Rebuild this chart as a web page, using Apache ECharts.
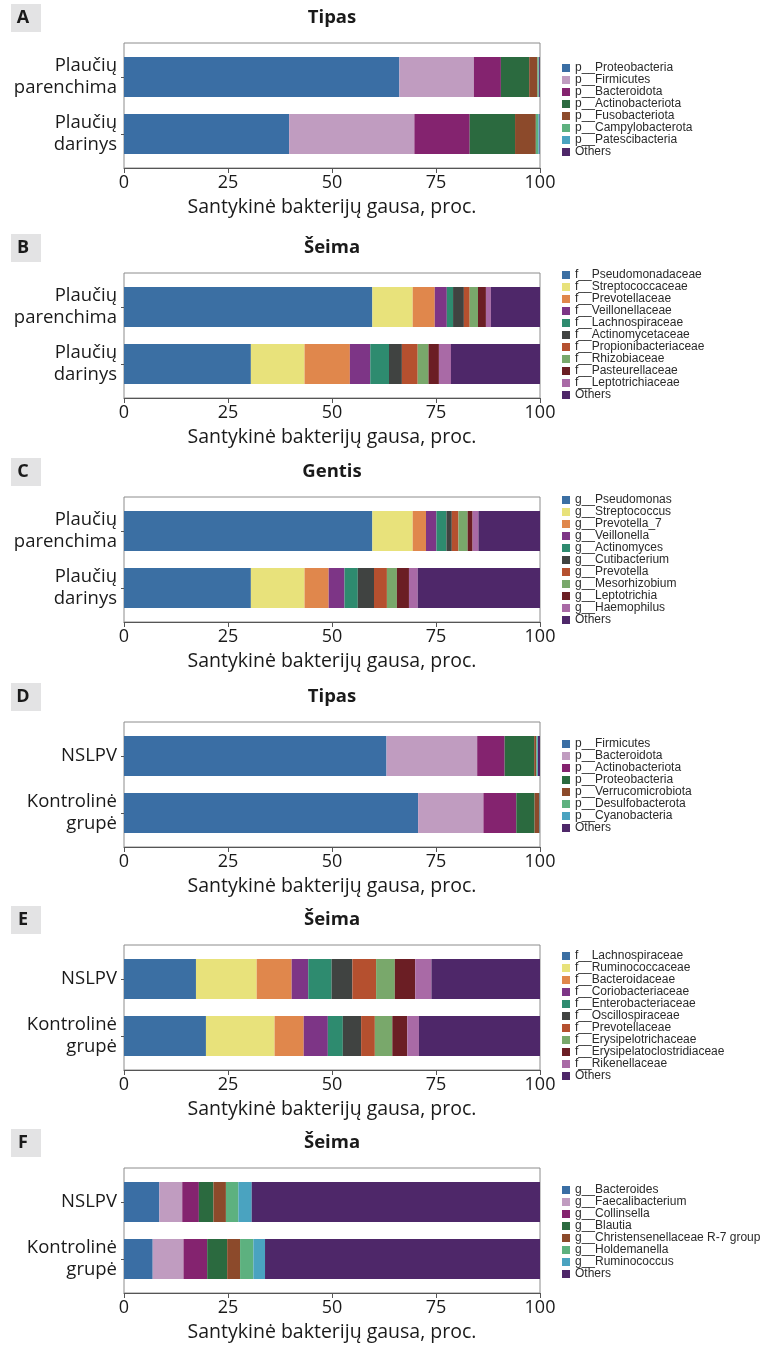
<!DOCTYPE html>
<html>
<head>
<meta charset="utf-8">
<script src="https://cdn.jsdelivr.net/npm/echarts@6/dist/echarts.min.js"></script>
<style>
  html, body { margin: 0; padding: 0; background: #fff; }
  #page { position: relative; width: 776px; height: 1356px; }
  .panel { position: absolute; left: 0; width: 776px; height: 228px; }
</style>
</head>
<body>
<div id="page"></div>
<script>
// Shared axis text
const axisTitle = 'Santykinė bakterijų gausa, proc.';
const xTicks = [0, 25, 50, 75, 100];
const lungGroups = ['Plaučių\nparenchima', 'Plaučių\ndarinys'];
const nafldGroups = ['NSLPV', 'Kontrolinė\ngrupė'];

// Colour sets
const phylumColors = ['#3a6ea4', '#c09cc0', '#84236f', '#2b6a3f', '#8c4a2b', '#5db17f', '#4aa3c0', '#4e2769'];
const familyColors = ['#3b6fa3', '#e8e27b', '#e0874c', '#7d3586', '#2e8b6f', '#404341', '#b5502f', '#79a86b', '#6b1e24', '#a96aa6', '#4e2769'];

// A – phylum, lung tissue vs. tumour  (values: [parenchima, darinys])
const taxaA = ['p__Proteobacteria', 'p__Firmicutes', 'p__Bacteroidota', 'p__Actinobacteriota',
  'p__Fusobacteriota', 'p__Campylobacterota', 'p__Patescibacteria', 'Others'];
const valuesA = [[66.2, 39.7], [17.9, 30.1], [6.5, 13.3], [6.8, 10.9], [2.0, 5.0], [0.3, 0.6], [0.1, 0.3], [0.2, 0.1]];

// B – family, lung tissue vs. tumour
const taxaB = ['f__Pseudomonadaceae', 'f__Streptococcaceae', 'f__Prevotellaceae', 'f__Veillonellaceae',
  'f__Lachnospiraceae', 'f__Actinomycetaceae', 'f__Propionibacteriaceae', 'f__Rhizobiaceae',
  'f__Pasteurellaceae', 'f__Leptotrichiaceae', 'Others'];
const valuesB = [[59.7, 30.5], [9.7, 12.9], [5.3, 10.9], [2.9, 4.9], [1.5, 4.5], [2.6, 3.1],
  [1.4, 3.8], [2.0, 2.6], [1.9, 2.5], [1.2, 2.9], [11.8, 21.4]];

// C – genus, lung tissue vs. tumour
const taxaC = ['g__Pseudomonas', 'g__Streptococcus', 'g__Prevotella_7', 'g__Veillonella', 'g__Actinomyces',
  'g__Cutibacterium', 'g__Prevotella', 'g__Mesorhizobium', 'g__Leptotrichia', 'g__Haemophilus', 'Others'];
const valuesC = [[59.7, 30.5], [9.7, 12.9], [3.2, 5.8], [2.5, 3.8], [2.4, 3.2], [1.3, 3.9],
  [1.6, 3.1], [2.2, 2.4], [1.2, 2.9], [1.4, 2.1], [14.8, 29.4]];

// D – phylum, NSLPV vs. control
const taxaD = ['p__Firmicutes', 'p__Bacteroidota', 'p__Actinobacteriota', 'p__Proteobacteria',
  'p__Verrucomicrobiota', 'p__Desulfobacterota', 'p__Cyanobacteria', 'Others'];
const valuesD = [[63.1, 70.7], [21.8, 15.7], [6.6, 7.9], [7.1, 4.4], [0.5, 1.1], [0.2, 0.1], [0.2, 0.05], [0.5, 0.05]];

// E – family, NSLPV vs. control
const taxaE = ['f__Lachnospiraceae', 'f__Ruminococcaceae', 'f__Bacteroidaceae', 'f__Coriobacteriaceae',
  'f__Enterobacteriaceae', 'f__Oscillospiraceae', 'f__Prevotellaceae', 'f__Erysipelotrichaceae',
  'f__Erysipelatoclostridiaceae', 'f__Rikenellaceae', 'Others'];
const valuesE = [[17.3, 19.7], [14.6, 16.5], [8.4, 7.0], [4.0, 5.8], [5.6, 3.6], [5.0, 4.4],
  [5.7, 3.3], [4.5, 4.2], [4.9, 3.6], [3.9, 2.8], [26.1, 29.1]];

// F – genus, NSLPV vs. control
const taxaF = ['g__Bacteroides', 'g__Faecalibacterium', 'g__Collinsella', 'g__Blautia',
  'g__Christensenellaceae R-7 group', 'g__Holdemanella', 'g__Ruminococcus', 'Others'];
const valuesF = [[8.5, 6.9], [5.5, 7.4], [4.0, 5.7], [3.5, 4.8], [3.0, 3.1], [3.0, 3.2], [3.2, 2.8], [69.3, 66.1]];

const panels = [
  { letter: 'A', title: 'Tipas',  top: -2,   groups: lungGroups,  taxa: taxaA, values: valuesA, colors: phylumColors, legendTop: 59 },
  { letter: 'B', title: 'Šeima',  top: 228,  groups: lungGroups,  taxa: taxaB, values: valuesB, colors: familyColors, legendTop: 36 },
  { letter: 'C', title: 'Gentis', top: 452,  groups: lungGroups,  taxa: taxaC, values: valuesC, colors: familyColors, legendTop: 37 },
  { letter: 'D', title: 'Tipas',  top: 677,  groups: nafldGroups, taxa: taxaD, values: valuesD, colors: phylumColors, legendTop: 56 },
  { letter: 'E', title: 'Šeima',  top: 900,  groups: nafldGroups, taxa: taxaE, values: valuesE, colors: familyColors, legendTop: 45 },
  { letter: 'F', title: 'Šeima',  top: 1123, groups: nafldGroups, taxa: taxaF, values: valuesF, colors: phylumColors, legendTop: 56 }
];

const mainFont = '"Open Sans", "Noto Sans", sans-serif';
const legendFont = '"Liberation Sans", Arial, sans-serif';
// plot frame
const frameLeft = 124, frameTop = 45, frameWidth = 416, frameHeight = 125;
// band area for the two bars, inset inside the frame
const barAreaTop = 50.5, barAreaHeight = 114;

const page = document.getElementById('page');
panels.forEach(p => {
  const div = document.createElement('div');
  div.className = 'panel';
  div.style.top = p.top + 'px';
  page.appendChild(div);
  const chart = echarts.init(div, null, { renderer: 'canvas' });
  chart.setOption({
    animation: false,
    textStyle: { fontFamily: mainFont },
    graphic: [
      { type: 'rect', left: 11, top: 6, shape: { width: 30, height: 28 }, style: { fill: '#e3e3e4' } },
      { type: 'text', x: 23, y: 20,
        style: { text: p.letter, font: 'bold 18px ' + mainFont, fill: '#1a1a1a', align: 'center', verticalAlign: 'middle' } },
      { type: 'text', x: frameLeft + frameWidth / 2, y: 20,
        style: { text: p.title, font: 'bold 18.5px ' + mainFont, fill: '#1a1a1a', align: 'center', verticalAlign: 'middle' } }
    ],
    grid: [
      { left: frameLeft, top: frameTop, width: frameWidth, height: frameHeight, show: true,
        borderColor: '#8c8c8c', borderWidth: 1, backgroundColor: '#fff' },
      { left: frameLeft, top: barAreaTop, width: frameWidth, height: barAreaHeight }
    ],
    xAxis: [
      {
        gridIndex: 0, type: 'value', min: xTicks[0], max: xTicks[xTicks.length - 1], interval: 25,
        splitLine: { show: false },
        axisLine: { show: true, lineStyle: { color: '#555', width: 1 } },
        axisTick: { show: true, length: 5, lineStyle: { color: '#555' } },
        axisLabel: { fontSize: 18, color: '#1a1a1a', margin: 6, fontFamily: mainFont },
        name: axisTitle, nameLocation: 'middle', nameGap: 29,
        nameTextStyle: { fontSize: 19.5, color: '#1a1a1a', fontFamily: mainFont }
      },
      { gridIndex: 1, type: 'value', min: 0, max: 100, show: false }
    ],
    yAxis: [
      { gridIndex: 0, type: 'value', show: false },
      {
        gridIndex: 1, type: 'category', data: p.groups, inverse: true,
        axisLine: { show: false },
        axisTick: { show: true, alignWithLabel: true, length: 3, lineStyle: { color: '#555' } },
        axisLabel: { fontSize: 18.5, color: '#1a1a1a', lineHeight: 22, margin: 7, fontFamily: mainFont, align: 'right' }
      }
    ],
    legend: {
      orient: 'vertical', left: 557, top: p.legendTop,
      itemWidth: 8, itemHeight: 8, itemGap: 0, icon: 'rect',
      selectedMode: false,
      textStyle: { fontSize: 12, lineHeight: 12, color: '#2a2a2a', fontFamily: legendFont },
      data: p.taxa
    },
    series: p.taxa.map((name, i) => ({
      type: 'bar', name: name, stack: 'total', barWidth: 40,
      xAxisIndex: 1, yAxisIndex: 1,
      itemStyle: { color: p.colors[i] },
      emphasis: { disabled: true },
      data: p.values[i]
    }))
  });
});
</script>
</body>
</html>
